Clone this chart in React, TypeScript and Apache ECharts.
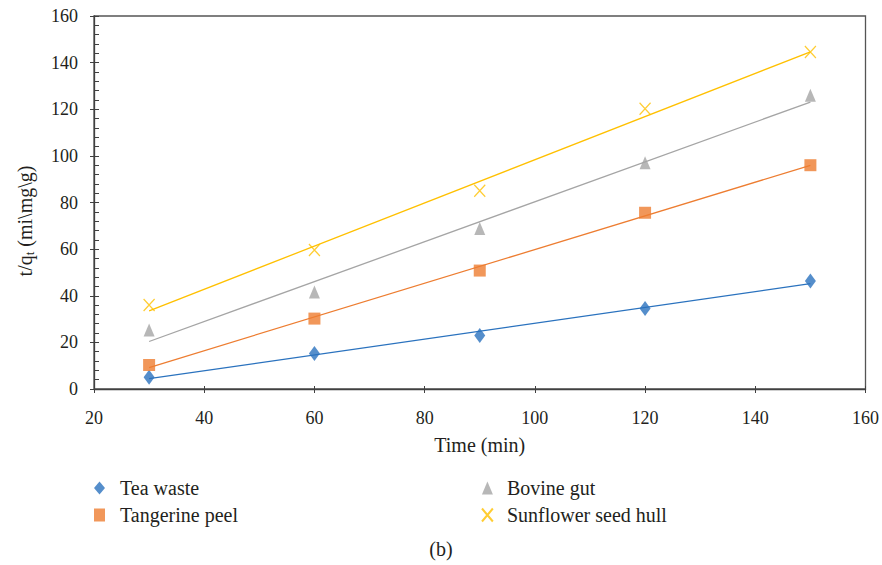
import React, { useEffect, useRef } from "react";
import * as echarts from "echarts";

const times = [30, 60, 90, 120, 150];
const teaWaste = [5, 15.2, 23, 34.5, 46.3];
const tangerinePeel = [10.3, 30.2, 50.8, 75.6, 96];
const bovineGut = [25.3, 41.6, 68.8, 97, 126];
const sunflowerHull = [36, 59.6, 85, 120.2, 144.6];

const xTicks = { min: 20, max: 160, interval: 20 };
const yTicks = { min: 0, max: 160, interval: 20 };

const FONT = "'Liberation Serif', 'Times New Roman', 'DejaVu Serif', serif";
const TXT = "#231f20";

const fit = (xs: number[], ys: number[]) => {
  const n = xs.length;
  const mx = xs.reduce((a, b) => a + b, 0) / n;
  const my = ys.reduce((a, b) => a + b, 0) / n;
  let sxy = 0, sxx = 0;
  for (let i = 0; i < n; i++) {
    sxy += (xs[i] - mx) * (ys[i] - my);
    sxx += (xs[i] - mx) ** 2;
  }
  const b = sxy / sxx;
  const a = my - b * mx;
  const x0 = xs[0], x1 = xs[n - 1];
  return [[x0, a + b * x0], [x1, a + b * x1]];
};

const SERIES = [
  { name: "Tea waste", data: teaWaste, color: "#2a72be", symbol: "diamond", size: [11, 15] },
  { name: "Tangerine peel", data: tangerinePeel, color: "#ed7d31", symbol: "rect", size: [12, 12] },
  { name: "Bovine gut", data: bovineGut, color: "#a5a5a5", symbol: "triangle", size: [11, 13] },
  { name: "Sunflower seed hull", data: sunflowerHull, color: "#ffc000", symbol: "path://M0,0L10,12M10,0L0,12", size: [11, 12] },
];

export default function App() {
  const ref = useRef<HTMLDivElement>(null);
  useEffect(() => {
    if (!ref.current) return;
    const chart = echarts.init(ref.current, null, { renderer: "svg" });
    const series: any[] = [];
    SERIES.forEach((s) => {
      series.push({
        type: "line",
        data: fit(times, s.data),
        showSymbol: false,
        symbol: "none",
        silent: true,
        lineStyle: { color: s.color, width: 1.3 },
        z: 1,
      });
    });
    SERIES.forEach((s) => {
      const isX = s.symbol.startsWith("path");
      series.push({
        type: "scatter",
        name: s.name,
        data: times.map((t, i) => [t, s.data[i]]),
        symbol: s.symbol,
        symbolSize: s.size,
        itemStyle: isX
          ? { color: "rgba(0,0,0,0)", borderColor: s.color, borderWidth: 1.3 }
          : { color: s.color },
        z: 3,
      });
    });
    const axisLine = { show: true, lineStyle: { color: "#404040", width: 1.3 } };
    const legendText = (pad: number) => ({
      fontFamily: FONT, fontSize: 20, color: TXT, padding: [0, 0, 0, pad],
    });
    chart.setOption({
      animation: false,
      grid: {
        left: 94, right: 16, top: 16, bottom: 176,
        show: true, borderColor: "#555555", borderWidth: 1.3,
      },
      xAxis: [
        {
          type: "value", ...xTicks,
          axisLine,
          axisTick: { show: true, inside: false, length: 4, lineStyle: { color: "#404040" } },
          axisLabel: { fontFamily: FONT, fontSize: 18, color: TXT, margin: 20 },
          splitLine: { show: false },
          name: "Time (min)",
          nameLocation: "middle",
          nameGap: 46,
          nameTextStyle: { fontFamily: FONT, fontSize: 20, color: TXT },
        },
        {
          type: "value", ...xTicks, position: "bottom",
          axisLine: { show: false },
          axisTick: { show: true, inside: true, length: 3, lineStyle: { color: "#404040" } },
          axisLabel: { show: false },
          splitLine: { show: false },
        },
      ],
      yAxis: [
        {
          type: "value", ...yTicks,
          axisLine,
          axisTick: { show: true, inside: true, length: 5, lineStyle: { color: "#404040" } },
          minorTick: { show: true, splitNumber: 5, length: 5, lineStyle: { color: "#404040" } },
          axisLabel: { fontFamily: FONT, fontSize: 18, color: TXT, margin: 16 },
          splitLine: { show: false },
        },
        {
          type: "value", ...yTicks, position: "left",
          axisLine: { show: false },
          axisTick: { show: true, inside: false, length: 4, lineStyle: { color: "#404040" } },
          axisLabel: { show: false },
          splitLine: { show: false },
        },
      ],
      legend: [
        {
          left: 94, top: 478, orient: "vertical", itemGap: 7, padding: 0,
          itemWidth: 11, itemHeight: 13,
          data: ["Tea waste", "Tangerine peel"],
          textStyle: legendText(10),
        },
        {
          left: 481, top: 478, orient: "vertical", itemGap: 7, padding: 0,
          itemWidth: 11, itemHeight: 13,
          data: ["Bovine gut", "Sunflower seed hull"],
          textStyle: legendText(9),
        },
      ],
      graphic: [
        {
          type: "text", x: 25, y: 221, rotation: Math.PI / 2,
          style: {
            text: "t/q{sub|t} (mi\\mg\\g)",
            fontFamily: FONT, fontSize: 20, fill: TXT,
            align: "center", verticalAlign: "middle",
            rich: {
              sub: { fontFamily: FONT, fontSize: 13, fill: TXT, verticalAlign: "bottom", lineHeight: 22 },
            },
          },
        },
        {
          type: "text", x: 441, y: 549,
          style: { text: "(b)", fontFamily: FONT, fontSize: 20, fill: TXT, align: "center", verticalAlign: "middle" },
        },
      ],
      series,
    });
    return () => chart.dispose();
  }, []);
  return (
    <div
      ref={ref}
      style={{ position: "fixed", left: 0, top: 0, width: 882, height: 565, background: "#fff" }}
    />
  );
}
